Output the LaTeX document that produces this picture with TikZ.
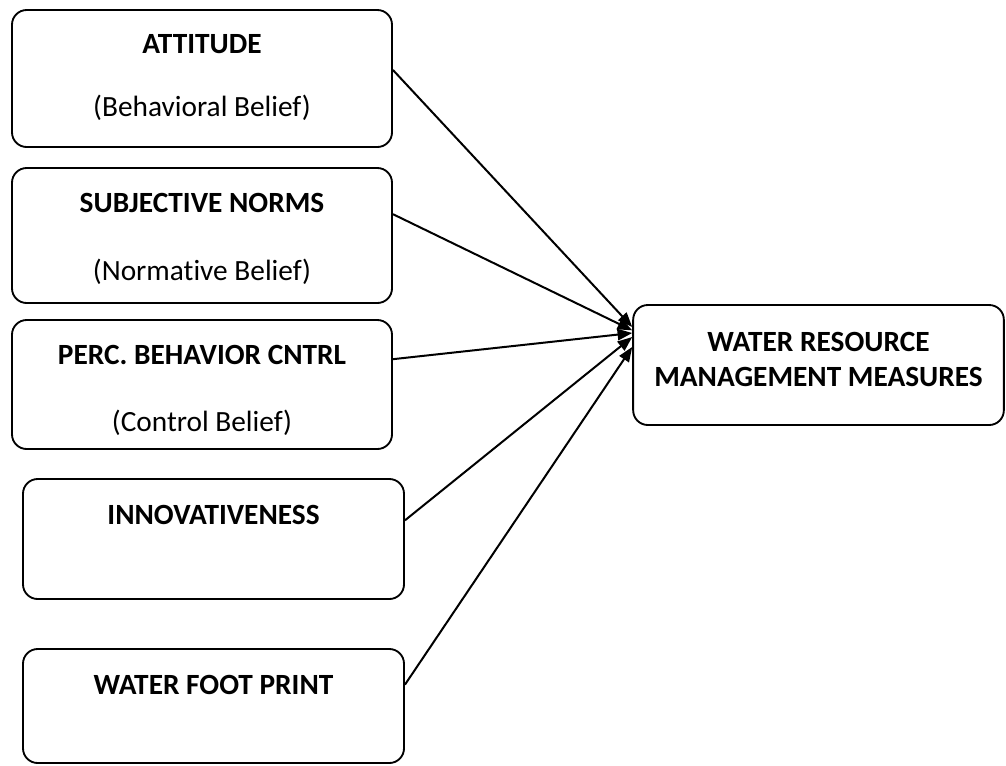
\documentclass[tikz,border=0pt]{standalone}
\usepackage{fontspec}
\setmainfont{Carlito}[Ligatures=NoCommon]
\usetikzlibrary{arrows.meta}
\begin{document}
\begin{tikzpicture}[x=0.75pt,y=-0.75pt,
  box/.style={draw, line width=1.4pt, rounded corners=11pt, inner sep=0pt},
  head/.style={font=\fontsize{22}{26}\selectfont\bfseries, inner sep=0pt},
  sub/.style={font=\fontsize{22}{26}\selectfont, inner sep=0pt},
  link/.style={line width=1.5pt, -{Triangle[length=11pt,width=8.5pt]}}]
\useasboundingbox (0,0) rectangle (1006,765);

% source boxes
\node[box, minimum width=285pt, minimum height=102.75pt] (att) at (202,78.5) {};
\node[box, minimum width=285pt, minimum height=101.25pt] (sn)  at (202,235.5) {};
\node[box, minimum width=285pt, minimum height=96.75pt]  (pbc) at (202,384.5) {};
\node[box, minimum width=285.75pt, minimum height=90pt]  (inn) at (213.5,539) {};
\node[box, minimum width=285.75pt, minimum height=85.5pt] (wfp) at (213.5,706) {};

% target box
\node[box, minimum width=278pt, minimum height=90pt] (wrm) at (818.5,365) {};

% labels
\node[head] (attT) at (202,44) {ATTITUDE};
\node[sub]  (attS) at (202,108) {(Behavioral Belief)};
\node[head] (snT)  at (202,203) {SUBJECTIVE NORMS};
\node[sub]  (snS)  at (202,272) {(Normative Belief)};
\node[head] (pbcT) at (202,355) {PERC. BEHAVIOR CNTRL};
\node[sub]  (pbcS) at (202,423) {(Control Belief)};
\node[head] (innT) at (213.5,515) {INNOVATIVENESS};
\node[head] (wfpT) at (213.5,685) {WATER FOOT PRINT};
\node[head] (wrmT1) at (818.5,342) {WATER RESOURCE};
\node[head] (wrmT2) at (818.5,377) {MANAGEMENT MEASURES};

% connectors
\draw[link] ([yshift=6.4pt]att.east) -- ([yshift=28.5pt]wrm.west);
\draw[link] ([yshift=16pt]sn.east)   -- ([yshift=26pt]wrm.west);
\draw[link] ([yshift=19pt]pbc.east)  -- ([yshift=24pt]wrm.west);
\draw[link] ([yshift=14pt]inn.east)  -- ([yshift=21pt]wrm.west);
\draw[link] ([yshift=16pt]wfp.east)  -- ([yshift=13.5pt]wrm.west);
\end{tikzpicture}
\end{document}
